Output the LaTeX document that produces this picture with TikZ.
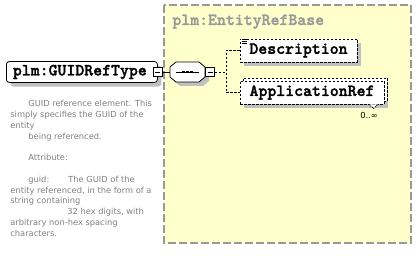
\documentclass[tikz,border=0pt]{standalone}
\usepackage{fontspec}
\newfontfamily\notefont{DejaVu Sans}
\newfontfamily\elemmono{lmmonolt10-bold}[Extension=.otf, FakeBold=1.6]
\usetikzlibrary{shadows, calc}
\definecolor{groupfill}{HTML}{FFFFCC}
\definecolor{groupline}{HTML}{999999}
\definecolor{titlegray}{HTML}{999999}
\definecolor{shadowgray}{HTML}{C0C0C0}
\definecolor{notegray}{HTML}{808080}

\begin{document}
\begin{tikzpicture}[
    x=1pt, y=-1pt,
    line width=0.8pt,
    grayshadow/.style={drop shadow={shadow xshift=4pt, shadow yshift=-4pt, fill=shadowgray, opacity=1}},
    elemfont/.style={font=\elemmono\fontsize{17}{17}\selectfont},
    elemdash/.style={draw=black, fill=white, dash pattern=on 2.5pt off 1.5pt, inner sep=0pt, elemfont, grayshadow},
    minusbox/.style={draw=black, fill=white, minimum size=9pt, inner sep=0pt,
        path picture={\draw ([xshift=2pt]path picture bounding box.west) -- ([xshift=-2pt]path picture bounding box.east);}},
    wire/.style={draw=black, line width=0.8pt},
    dashwire/.style={draw=black, line width=0.8pt, dash pattern=on 2.5pt off 1.5pt}
]
    \useasboundingbox (0,0) rectangle (419,256);
    \fill[white] (0,0) rectangle (419,256);

    % Group: plm:EntityRefBase
    \fill[groupfill] (164,5) rectangle (411,243);
    \draw[groupline, line width=1.4pt, dash pattern=on 8pt off 3pt] (164,5) rectangle (411,243);
    \node[anchor=base west, inner sep=0pt, elemfont, text=titlegray] (grouptitle) at (172,25) {plm:EntityRefBase};

    % Main element
    \node[draw=black, fill=white, rounded corners=3pt, grayshadow, elemfont, anchor=west,
          text width=138pt, inner xsep=6.5pt, minimum height=21pt, align=left] (guidtype) at (6,72) {plm:GUIDRefType};
    \node[minusbox] (guidminus) at (guidtype.east) {};

    % Sequence compositor (octagon)
    \node[minimum width=35pt, minimum height=20pt, inner sep=0pt] (seq) at (187.5,72) {};
    \fill[shadowgray, shift={(4,4)}] (170,67) -- (176,62) -- (199,62) -- (205,67) -- (205,77) -- (199,82) -- (176,82) -- (170,77) -- cycle;
    \filldraw[fill=white] (170,67) -- (176,62) -- (199,62) -- (205,67) -- (205,77) -- (199,82) -- (176,82) -- (170,77) -- cycle;
    \draw (176,72) -- (199,72);
    \foreach \dx in {-4,0,4}
        \fill ($(seq.center)+(\dx-1.4,-1.4)$) rectangle ++(2.8,2.8);
    \node[minusbox] (seqminus) at (210,72) {};
    \draw[wire] (guidminus.east) -- (seq.west);

    % Child elements
    \node[elemdash, minimum width=117pt, minimum height=23pt] (descr) at (298.5,50.5) {Description};
    \foreach \k in {0,2,4}
        \draw[line width=0.6pt] ($(descr.north west)+(2,1+\k)$) -- ++(5,0);
    \node[elemdash, minimum width=144pt, minimum height=23pt,
          copy shadow={shadow xshift=3pt, shadow yshift=3pt, draw=black, fill=white, line width=0.8pt, dash pattern=on 2.5pt off 1.5pt}]
          (appref) at (312,92.5) {ApplicationRef};
    \filldraw[fill=white, dash pattern=on 1pt off 1pt] ($(appref.south)+(57,0)$) -- ++(4.5,4) -- ++(4.5,-4);
    \node[font=\notefont\fontsize{8.3}{10}\selectfont, inner sep=0pt] (apprefcount) at (369,115.5) {0..∞};

    % Connectors
    \coordinate (branch) at (226,72);
    \draw[dashwire] (seqminus.east) -- (branch);
    \draw[dashwire] (descr.west) -| (branch) |- (appref.west);

    % Documentation
    \node[anchor=north west, inner sep=0pt, align=left, text=notegray,
          font=\notefont\fontsize{8.3}{10.8}\selectfont] (guiddoc) at (10,100) {%
        \hspace*{18pt}GUID reference element. This\\
        simply specifies the GUID of the\\
        entity\\
        \hspace*{18pt}being referenced.\\[10.8pt]
        \hspace*{18pt}Attribute:\\[10.8pt]
        \hspace*{18pt}\makebox[40pt][l]{guid:}The GUID of the\\
        entity referenced, in the form of a\\
        string containing\\
        \hspace*{57pt}32 hex digits, with\\
        arbitrary non-hex spacing\\
        characters.};
\end{tikzpicture}
\end{document}
